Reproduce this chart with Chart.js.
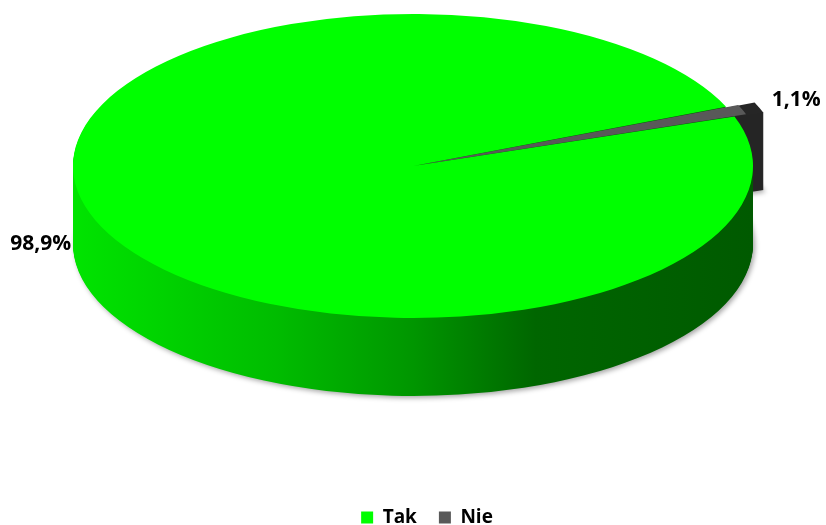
<!DOCTYPE html>
<html>
<head>
<meta charset="utf-8">
<script src="https://cdn.jsdelivr.net/npm/chart.js@4.4.0/dist/chart.umd.min.js"></script>
<style>
  html, body { margin: 0; padding: 0; background: #fff; }
  canvas { display: block; }
</style>
</head>
<body>
<canvas id="myChart" width="826" height="525"></canvas>
<script>
// odpowiedzi w ankiecie
const labels = ["Tak", "Nie"];
const values = [98.9, 1.1];
const valueLabels = ["98,9%", "1,1%"];

const topColors = ["#00ff00", "#595959"];
const sideColors = [null, "#262626"]; // null = gradient zielony
const offsets = [0, 18];

// wymiary tortu "3D" na ekranie (elipsa + grubość)
const CX = 413, CY = 166, RX = 340, RY = 152, DEPTH = 78;

const sideGradient = (ctx) => {
  const g = ctx.createLinearGradient(CX - RX, 0, CX + RX, 0);
  g.addColorStop(0, "#00e400");
  g.addColorStop(0.3, "#00bc00");
  g.addColorStop(0.5, "#009600");
  g.addColorStop(0.68, "#006600");
  g.addColorStop(1, "#005a00");
  return g;
};

// ta sama geometria co w ArcElement.draw (offset/4 + powiększony promień)
const sectorPath = (ctx, el) => {
  const { x, y, startAngle, endAngle, outerRadius } = el;
  const off = el.options.offset || 0;
  const mid = (startAngle + endAngle) / 2;
  const fix = 1 - Math.sin(Math.min(Math.PI, endAngle - startAngle));
  const ox = x + Math.cos(mid) * off / 4;
  const oy = y + Math.sin(mid) * off / 4;
  ctx.beginPath();
  ctx.moveTo(ox, oy);
  ctx.arc(ox, oy, outerRadius + off * fix, startAngle, endAngle);
  ctx.closePath();
};

const toScreen = (ctx, el, R, dy) => {
  ctx.translate(CX, CY + dy);
  ctx.scale(RX / R, RY / R);
  ctx.translate(-el.x, -el.y);
};

const pie3d = {
  id: "pie3d",
  beforeDatasetsDraw(chart) {
    const ctx = chart.ctx;
    const arcs = chart.getDatasetMeta(0).data;
    const R = arcs[0].outerRadius;

    // boki: najpierw tylny (szary) kawałek, potem zielony
    [1, 0].forEach((i) => {
      const el = arcs[i];
      const fill = sideColors[i] || sideGradient(ctx);
      for (let d = DEPTH; d > 0; d--) {
        ctx.save();
        toScreen(ctx, el, R, d);
        sectorPath(ctx, el);
        ctx.restore();
        ctx.save();
        if (d === DEPTH) {
          ctx.shadowColor = "rgba(0,0,0,0.35)";
          ctx.shadowBlur = 5;
          ctx.shadowOffsetX = 2;
          ctx.shadowOffsetY = 2;
        }
        ctx.fillStyle = fill;
        ctx.fill();
        ctx.restore();
      }
    });

    // wierzch rysuje Chart.js, spłaszczony do elipsy
    ctx.save();
    toScreen(ctx, arcs[0], R, 0);
  },
  afterDatasetsDraw(chart) {
    chart.ctx.restore();
  },
  afterDraw(chart) {
    const ctx = chart.ctx;
    const arcs = chart.getDatasetMeta(0).data;
    const R = arcs[0].outerRadius;
    ctx.save();
    ctx.font = "bold 21px 'Open Sans'";
    ctx.fillStyle = "#000";
    ctx.textBaseline = "middle";
    arcs.forEach((el, i) => {
      const mid = (el.startAngle + el.endAngle) / 2;
      const c = Math.cos(mid), s = Math.sin(mid);
      const extra = (el.options.offset || 0) * 0.7 * RX / R;
      const x = CX + c * (RX + 26 + extra);
      const y = CY + s * (RY + 50) + 6;
      ctx.textAlign = c > 0 ? "left" : "right";
      ctx.fillText(valueLabels[i], x, y);
    });
    ctx.restore();
  },
};

const ctx = document.querySelector("#myChart").getContext("2d");
const myChart = new Chart(ctx, {
  type: "pie",
  data: {
    labels: labels,
    datasets: [
      {
        data: values,
        backgroundColor: topColors,
        borderWidth: 0,
        offset: offsets,
        clip: false,
      },
    ],
  },
  options: {
    responsive: false,
    animation: false,
    events: [],
    rotation: 71,
    layout: { padding: { left: 28, bottom: -12 } },
    plugins: {
      legend: {
        position: "bottom",
        labels: {
          boxWidth: 12,
          boxHeight: 12,
          padding: 22,
          color: "#000",
          font: { family: "'Open Sans'", size: 19, weight: "bold" },
        },
      },
      tooltip: { enabled: false },
    },
  },
  plugins: [pie3d],
});
</script>
</body>
</html>
